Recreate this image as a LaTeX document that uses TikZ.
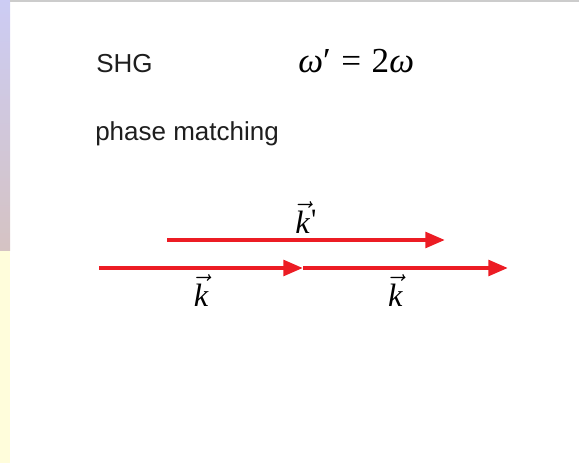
\documentclass[tikz,border=0pt]{standalone}
\usepackage{fontspec}
\setmainfont{Liberation Sans}
\newfontfamily\eqfont{Liberation Serif}
\definecolor{beamred}{RGB}{236,28,36}
\definecolor{slidetext}{RGB}{30,30,30}
\usetikzlibrary{positioning, arrows.meta}
\tikzset{
  beam/.style={-{Triangle[length=14pt, width=11pt]}, line width=3pt, beamred},
  heading/.style={anchor=base west, inner sep=0pt, text=slidetext, font=\fontsize{18.5}{22}\selectfont},
  veclabel/.style={text=black, font=\eqfont\fontsize{23}{27}\selectfont, inner sep=1pt}
}
\newcommand{\kvec}{$\vec{\hbox{\itshape k}}$}

\begin{document}
\begin{tikzpicture}
        \useasboundingbox (0,0) rectangle (14.475,11.575);
        % slide edge on the left and top
        \shade[top color=black!22!blue!20, bottom color=red!18!gray!40] (0,5.3) rectangle (0.25,11.575);
        \fill[yellow!14] (0,0) rectangle (0.25,5.3);
        \fill[black!20] (0.25,11.525) rectangle (14.475,11.575);
        \node[heading] (shg) at (2.4,9.75) {SHG};
        \node[heading, text=black, font=\eqfont\fontsize{25}{29}\selectfont] (freq) at (7.45,9.77)
          {\itshape ω\upshape′\hspace{0.3em}=\hspace{0.3em}2\itshape ω};
        \node[heading] (pm) at (2.375,8.07) {phase matching};
        \coordinate (up0) at (4.175,5.575);
        \coordinate (up1) at (11.125,5.575);
        \coordinate (lo0) at (2.475,4.875);
        \coordinate (lo1) at (7.575,4.875);
        \coordinate (lo2) at (12.7,4.875);
        \draw[beam] (up0) -- node[veclabel, above=2pt]{\kvec\kern1pt\raisebox{0.25ex}{\fontsize{21}{24}\selectfont\char"27}} (up1);
        \draw[beam] (lo0) -- node[veclabel, below=2pt]{\kvec} (lo1);
        \draw[beam] (lo1) -- node[veclabel, below=2pt, pos=0.45]{\kvec} (lo2);
      \end{tikzpicture}
\end{document}
